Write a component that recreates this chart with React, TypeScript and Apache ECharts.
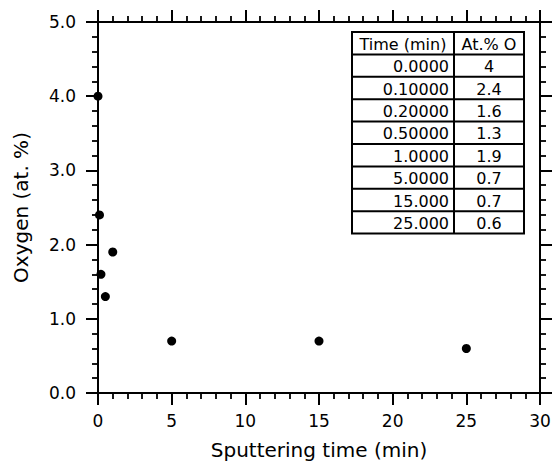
import React, { useEffect, useRef } from "react";
import * as echarts from "echarts";

const timeMin = [0, 0.1, 0.2, 0.5, 1, 5, 15, 25];
const oxygenAt = [4, 2.4, 1.6, 1.3, 1.9, 0.7, 0.7, 0.6];
const tableTimeLabels = ["0.0000", "0.10000", "0.20000", "0.50000", "1.0000", "5.0000", "15.000", "25.000"];
const tableOLabels = ["4", "2.4", "1.6", "1.3", "1.9", "0.7", "0.7", "0.6"];
const tableHeaders = ["Time (min)", "At.% O"];

const FONT = "'DejaVu Sans', Verdana, sans-serif";

function buildTable() {
  const left = 352;
  const top = 32;
  const w1 = 102;
  const w2 = 70;
  const rh = 22.4;
  const rows = tableTimeLabels.length + 1;
  const els: any[] = [];
  const W = w1 + w2;
  const H = rh * rows;
  els.push({
    type: "rect",
    shape: { x: left, y: top, width: W, height: H },
    style: { fill: "#fff", stroke: "#000", lineWidth: 2 },
    z: 10,
  });
  for (let i = 1; i < rows; i++) {
    els.push({
      type: "line",
      shape: { x1: left, y1: top + i * rh, x2: left + W, y2: top + i * rh },
      style: { stroke: "#000", lineWidth: 2 },
      z: 11,
    });
  }
  els.push({
    type: "line",
    shape: { x1: left + w1, y1: top, x2: left + w1, y2: top + H },
    style: { stroke: "#000", lineWidth: 2 },
    z: 11,
  });
  const fs = 16;
  els.push({
    type: "text",
    x: left + w1 / 2,
    y: top + rh / 2 + 1,
    style: { text: tableHeaders[0], fill: "#000", font: `${fs}px ${FONT}`, align: "center", verticalAlign: "middle" },
    z: 12,
  });
  els.push({
    type: "text",
    x: left + w1 + w2 / 2,
    y: top + rh / 2 + 1,
    style: { text: tableHeaders[1], fill: "#000", font: `${fs}px ${FONT}`, align: "center", verticalAlign: "middle" },
    z: 12,
  });
  tableTimeLabels.forEach((t, i) => {
    const cy = top + (i + 1) * rh + rh / 2 + 1;
    els.push({
      type: "text",
      x: left + w1 - 5,
      y: cy,
      style: { text: t, fill: "#000", font: `${fs}px ${FONT}`, align: "right", verticalAlign: "middle" },
      z: 12,
    });
    els.push({
      type: "text",
      x: left + w1 + w2 / 2,
      y: cy,
      style: { text: tableOLabels[i], fill: "#000", font: `${fs}px ${FONT}`, align: "center", verticalAlign: "middle" },
      z: 12,
    });
  });
  return els;
}

export default function App() {
  const ref = useRef<HTMLDivElement>(null);
  useEffect(() => {
    if (!ref.current) return;
    const chart = echarts.init(ref.current, null, { renderer: "svg" });
    const axisLine = { show: true, onZero: false, lineStyle: { color: "#000", width: 2 } };
    const tick = { show: true, inside: false, length: 12, lineStyle: { color: "#000", width: 2 } };
    const minor = { show: true, splitNumber: 5, length: 6, lineStyle: { color: "#000", width: 1.8 } };
    const labelStyle = { color: "#000", fontFamily: FONT, fontSize: 17 };
    chart.setOption({
      animation: false,
      backgroundColor: "#fff",
      grid: { left: 98, right: 15, top: 22, bottom: 70, containLabel: false, outerBoundsMode: "none" },
      xAxis: [
        {
          type: "value",
          position: "bottom",
          min: 0,
          max: 30,
          interval: 5,
          axisLine,
          axisTick: tick,
          minorTick: minor,
          splitLine: { show: false },
          axisLabel: { ...labelStyle, margin: 19 },
          name: "Sputtering time (min)",
          nameLocation: "middle",
          nameGap: 46,
          nameTextStyle: { color: "#000", fontFamily: FONT, fontSize: 20, lineHeight: 22 },
        },
        {
          type: "value",
          position: "top",
          min: 0,
          max: 30,
          interval: 5,
          axisLine,
          axisTick: tick,
          minorTick: minor,
          splitLine: { show: false },
          axisLabel: { show: false },
        },
      ],
      yAxis: [
        {
          type: "value",
          position: "left",
          min: 0,
          max: 5,
          interval: 1,
          axisLine,
          axisTick: tick,
          minorTick: minor,
          splitLine: { show: false },
          axisLabel: { ...labelStyle, margin: 22, formatter: (v: number) => v.toFixed(1) },
          name: "Oxygen (at. %)",
          nameLocation: "middle",
          nameGap: 67,
          nameTextStyle: { color: "#000", fontFamily: FONT, fontSize: 20 },
        },
        {
          type: "value",
          position: "right",
          min: 0,
          max: 5,
          interval: 1,
          axisLine,
          axisTick: tick,
          minorTick: minor,
          splitLine: { show: false },
          axisLabel: { show: false },
        },
      ],
      series: [
        {
          type: "scatter",
          data: timeMin.map((t, i) => [t, oxygenAt[i]]),
          symbol: "circle",
          symbolSize: 9,
          itemStyle: { color: "#000", opacity: 1 },
          clip: false,
          z: 5,
        },
      ],
      graphic: buildTable(),
    });
    return () => chart.dispose();
  }, []);
  return (
    <div
      ref={ref}
      style={{ position: "absolute", left: 0, top: 0, width: 555, height: 463, background: "#fff" }}
    />
  );
}
